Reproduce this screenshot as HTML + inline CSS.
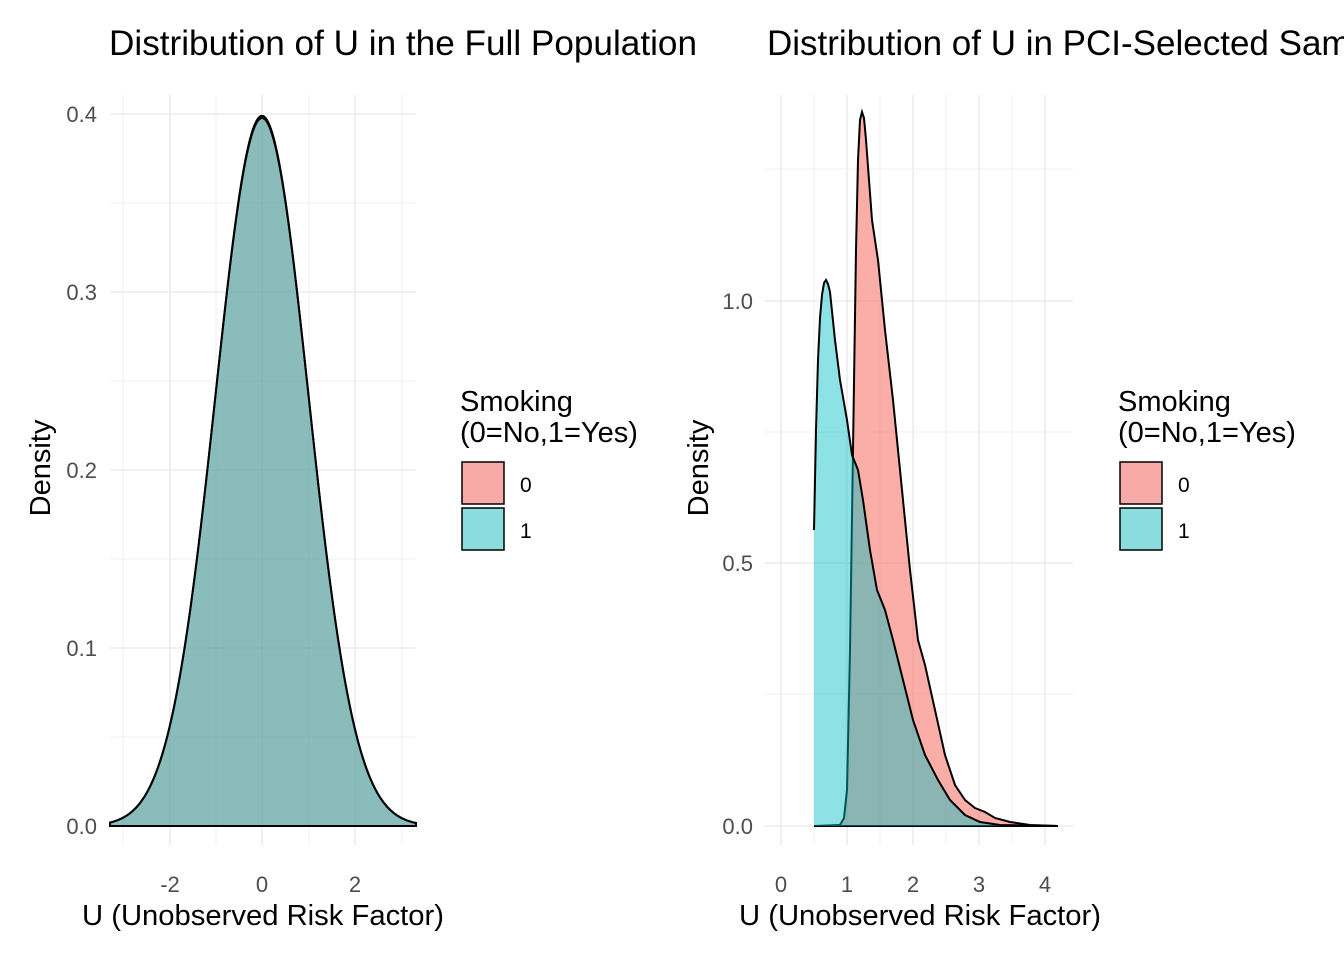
<!DOCTYPE html>
<html><head><meta charset="utf-8"><style>
body{margin:0;background:#fff}
svg text{font-family:"Liberation Sans",Arial,sans-serif}
.ti{font-size:35px}
.tk{font-size:22px;fill:#4d4d4d}
.ax{font-size:29px}
.lt{font-size:29px}
.ll{font-size:21px}
</style></head><body>
<svg id="s" width="1344" height="960" xmlns="http://www.w3.org/2000/svg">
<rect width="1344" height="960" fill="#fff"/>
<g id="lg" stroke="#ebebeb"></g>
<g id="rg" stroke="#ebebeb"></g>
<path id="lp" fill="rgba(248,118,109,0.5)" stroke="#000" stroke-width="2"/>
<path id="lt" fill="rgba(0,191,196,0.45)" stroke="#000" stroke-width="2"/>
<path id="rp" fill="rgba(248,118,109,0.6)" stroke="#000" stroke-width="2"/>
<path id="rt" fill="rgba(0,191,196,0.45)" stroke="#000" stroke-width="2"/>
<text class="ti" x="109" y="55" textLength="588" lengthAdjust="spacingAndGlyphs">Distribution of U in the Full Population</text>
<text class="ti" x="767" y="55">Distribution of U in PCI-Selected Sample</text>
<g text-anchor="end">
<text class="tk" x="97" y="122">0.4</text><text class="tk" x="97" y="300">0.3</text><text class="tk" x="97" y="478">0.2</text><text class="tk" x="97" y="656">0.1</text><text class="tk" x="97" y="834">0.0</text>
<text class="tk" x="753" y="309">1.0</text><text class="tk" x="753" y="571">0.5</text><text class="tk" x="753" y="834">0.0</text>
</g>
<g text-anchor="middle">
<text class="tk" x="170" y="892">-2</text><text class="tk" x="262" y="892">0</text><text class="tk" x="355" y="892">2</text>
<text class="tk" x="781" y="892">0</text><text class="tk" x="847" y="892">1</text><text class="tk" x="913" y="892">2</text><text class="tk" x="979" y="892">3</text><text class="tk" x="1045" y="892">4</text>
<text class="ax" x="263" y="925" textLength="362" lengthAdjust="spacingAndGlyphs">U (Unobserved Risk Factor)</text>
<text class="ax" x="920" y="925" textLength="362" lengthAdjust="spacingAndGlyphs">U (Unobserved Risk Factor)</text>
<text class="ax" transform="translate(50,468) rotate(-90)">Density</text>
<text class="ax" transform="translate(708,468) rotate(-90)">Density</text>
</g>
<g>
<text class="lt" x="460" y="411">Smoking</text><text class="lt" x="460" y="442">(0=No,1=Yes)</text>
<rect x="462" y="462" width="42" height="42" fill="#F8AAA8" stroke="#000" stroke-width="1.5"/>
<rect x="462" y="508" width="42" height="42" fill="#8ADCDE" stroke="#000" stroke-width="1.5"/>
<text class="ll" x="520" y="492">0</text><text class="ll" x="520" y="538">1</text>
<text class="lt" x="1118" y="411">Smoking</text><text class="lt" x="1118" y="442">(0=No,1=Yes)</text>
<rect x="1120" y="462" width="42" height="42" fill="#F8AAA8" stroke="#000" stroke-width="1.5"/>
<rect x="1120" y="508" width="42" height="42" fill="#8ADCDE" stroke="#000" stroke-width="1.5"/>
<text class="ll" x="1178" y="492">0</text><text class="ll" x="1178" y="538">1</text>
</g>
</svg>
<script>
function g(id,x1,x2,ys,xs,minx,minY){var h='';
xs.forEach(function(x){h+='<line x1="'+x+'" x2="'+x+'" y1="95" y2="845" stroke-width="1.6"/>'});
minx.forEach(function(x){h+='<line x1="'+x+'" x2="'+x+'" y1="95" y2="845" stroke-width="0.8"/>'});
ys.forEach(function(y){h+='<line x1="'+x1+'" x2="'+x2+'" y1="'+y+'" y2="'+y+'" stroke-width="1.6"/>'});
minY.forEach(function(y){h+='<line x1="'+x1+'" x2="'+x2+'" y1="'+y+'" y2="'+y+'" stroke-width="0.8"/>'});
document.getElementById(id).innerHTML=h;}
g('lg',110,416,[826,648,470,292,114],[170,262,355],[123,216,309,402],[737,559,381,203]);
g('rg',765,1073,[826,563,301],[781,847,913,979,1045],[814,880,946,1012],[694,432,169]);
function norm(s,p){var d='M110,826';for(var px=110;px<=416;px++){var x=(px-262)/46.5;var y=Math.exp(-x*x/(2*s*s))/(s*Math.sqrt(2*Math.PI))*p;d+=' L'+px+','+(826-y*1780).toFixed(1);}return d+' L416,826 Z';}
document.getElementById('lp').setAttribute('d',norm(1,1));
document.getElementById('lt').setAttribute('d',norm(1.003,1));
function pts(a){var d='M'+a[0];for(var i=1;i<a.length;i++)d+=' L'+a[i];return d;}
var t=[[814,530],[816,430],[818,360],[820,318],[822,295],[824,283],[826,280],[828,284],[830,292],[835,340],[840,380],[847,420],[852,455],[858,470],[863,500],[870,550],[877,590],[885,610],[893,640],[903,680],[913,720],[925,755],[938,780],[950,800],[965,815],[980,822],[1000,825],[1058,826]];
var p=[[814,826],[840,825],[844,818],[847,790],[850,650],[853,450],[856,250],[858,160],[860,120],[862,112],[864,118],[866,140],[872,220],[878,260],[885,330],[893,400],[903,500],[910,570],[918,640],[925,665],[935,710],[945,755],[955,785],[965,800],[975,808],[985,812],[995,818],[1010,822],[1030,825],[1058,826]];
document.getElementById('rp').setAttribute('d',pts(p)+' Z');
var rt=document.getElementById('rt');rt.setAttribute('d',pts(t));
var s=document.getElementById('s');var f=document.createElementNS('http://www.w3.org/2000/svg','path');
f.setAttribute('d',pts(t)+' L814,826 Z');f.setAttribute('fill','rgba(0,191,196,0.45)');
rt.setAttribute('fill','none');rt.setAttribute('stroke','#000');
s.insertBefore(f,rt);
</script>
</body></html>
